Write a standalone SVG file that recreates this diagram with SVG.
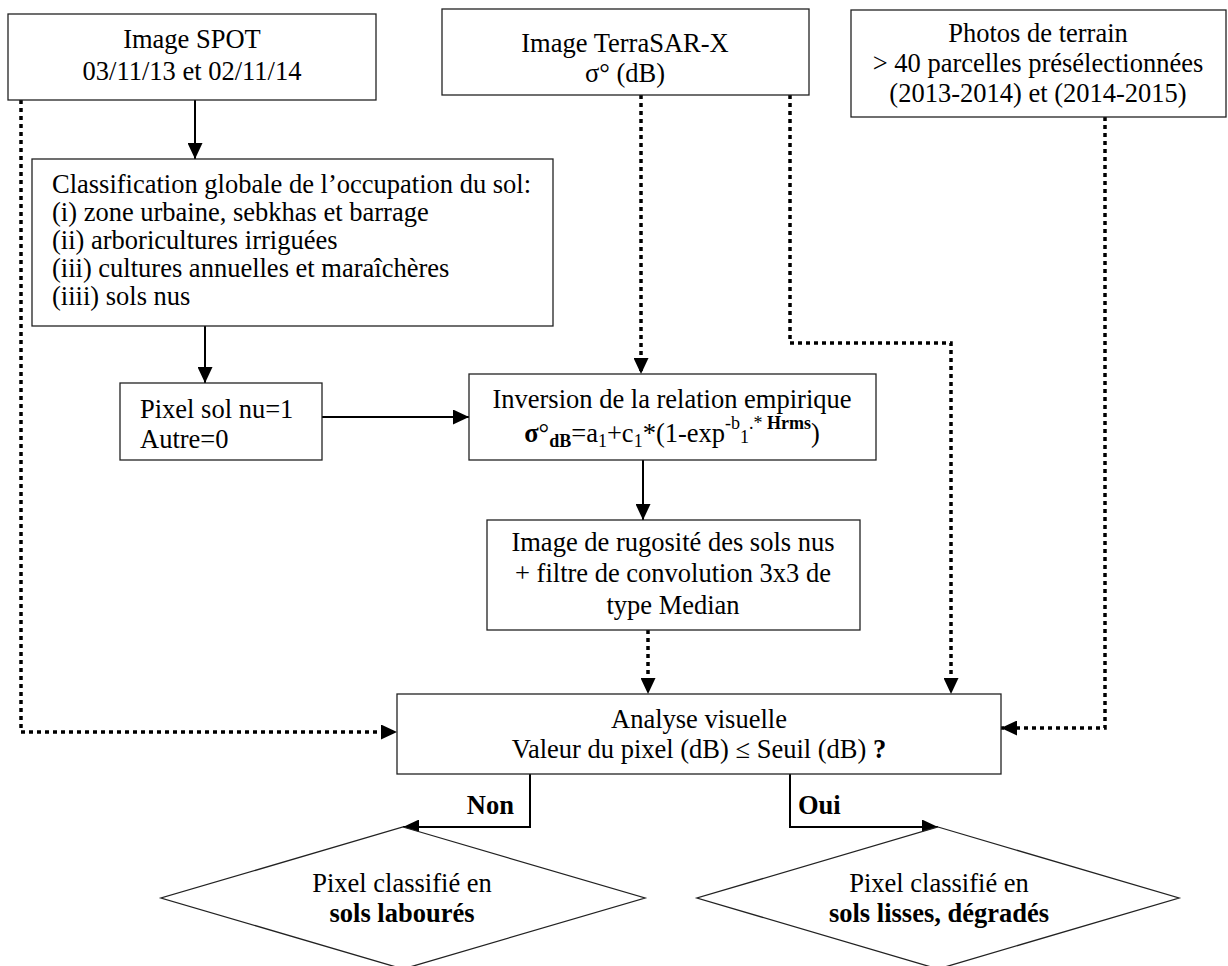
<svg xmlns="http://www.w3.org/2000/svg" width="1228" height="966" viewBox="0 0 1228 966">
  <defs>
    <marker id="arrow" markerUnits="userSpaceOnUse" markerWidth="16" markerHeight="15" refX="16" refY="7.5" orient="auto">
      <path d="M0,0 L16,7.5 L0,15 z" fill="#000"/>
    </marker>
    <style>
      .box { fill: #fff; stroke: #222; stroke-width: 1.3; }
      .t { font-family: "Liberation Serif", "Times New Roman", serif; font-size: 26.5px; fill: #000; }
      .c { text-anchor: middle; }
      .b { font-weight: bold; }
      .solid { fill: none; stroke: #000; stroke-width: 2; marker-end: url(#arrow); }
      .dot { fill: none; stroke: #000; stroke-width: 3.5; stroke-dasharray: 4 4; marker-end: url(#arrow); }
      .sub { font-size: 18px; }
    </style>
  </defs>
  <rect width="1228" height="966" fill="#fff"/>

  <!-- connectors -->
  <g id="connectors">
    <path class="solid" d="M195,100 V159"/>
    <path class="solid" d="M205,326 V383"/>
    <path class="solid" d="M322,417 H469"/>
    <path class="solid" d="M643,460 V520"/>
    <path class="dot" d="M641,95 V374"/>
    <path class="dot" d="M790,95 V343 H951 V694"/>
    <path class="dot" d="M1105,117 V728 H1001"/>
    <path class="dot" d="M21,100 V732 H397"/>
    <path class="dot" d="M648,630 V694"/>
    <path class="solid" d="M530,774 V827 H403"/>
    <path class="solid" d="M790,774 V827 H938"/>
  </g>

  <g id="spot">
    <rect class="box" x="8" y="14" width="368" height="86"/>
    <text class="t c" x="192" y="48">Image SPOT</text>
    <text class="t c" x="192" y="80">03/11/13 et 02/11/14</text>
  </g>

  <g id="terrasar">
    <rect class="box" x="442" y="9" width="367" height="86"/>
    <text class="t c" x="625" y="52">Image TerraSAR-X</text>
    <text class="t c" x="625" y="82">σ° (dB)</text>
  </g>

  <g id="photos">
    <rect class="box" x="851" y="10" width="375" height="107"/>
    <text class="t c" x="1038" y="42">Photos de terrain</text>
    <text class="t c" x="1038" y="72">&gt; 40 parcelles présélectionnées</text>
    <text class="t c" x="1038" y="102">(2013-2014) et (2014-2015)</text>
  </g>

  <g id="classification">
    <rect class="box" x="32" y="159" width="521" height="167"/>
    <text class="t" x="52" y="193">Classification globale de l’occupation du sol:</text>
    <text class="t" x="52" y="221">(i) zone urbaine, sebkhas et barrage</text>
    <text class="t" x="52" y="249">(ii) arboricultures irriguées</text>
    <text class="t" x="52" y="277">(iii) cultures annuelles et maraîchères</text>
    <text class="t" x="52" y="305">(iiii) sols nus</text>
  </g>

  <g id="pixel-mask">
    <rect class="box" x="120" y="383" width="202" height="77"/>
    <text class="t" x="140" y="418">Pixel sol nu=1</text>
    <text class="t" x="140" y="448">Autre=0</text>
  </g>

  <g id="inversion">
    <rect class="box" x="469" y="374" width="407" height="86"/>
    <text class="t c" x="672" y="408">Inversion de la relation empirique</text>
    <text class="t c" x="672" y="442"><tspan class="b">σ</tspan>°<tspan class="sub b" dy="5">dB</tspan><tspan dy="-5">=a</tspan><tspan class="sub" dy="5">1</tspan><tspan dy="-5">+c</tspan><tspan class="sub" dy="5">1</tspan><tspan dy="-5">*(1-exp</tspan><tspan class="sub" dy="-13">-b</tspan><tspan class="sub" dy="14">1</tspan><tspan class="sub" dy="-14">.* </tspan><tspan class="sub b">Hrms</tspan><tspan dy="13">)</tspan></text>
  </g>

  <g id="rugosite">
    <rect class="box" x="487" y="520" width="373" height="110"/>
    <text class="t c" x="673" y="551">Image de rugosité des sols nus</text>
    <text class="t c" x="673" y="582">+ filtre de convolution 3x3 de</text>
    <text class="t c" x="673" y="614">type Median</text>
  </g>

  <g id="analyse">
    <rect class="box" x="397" y="694" width="604" height="80"/>
    <text class="t c" x="699" y="728">Analyse visuelle</text>
    <text class="t c" x="699" y="758">Valeur du pixel (dB) ≤ Seuil (dB) <tspan class="b">?</tspan></text>
  </g>

  <g id="label-non">
    <text class="t b" x="514" y="814" text-anchor="end" font-size="28">Non</text>
  </g>
  <g id="label-oui">
    <text class="t b" x="798" y="814" font-size="28">Oui</text>
  </g>

  <g id="sols-laboures">
    <polygon class="box" points="403,827 645,898 403,969 161,898"/>
    <text class="t c" x="402" y="892">Pixel classifié en</text>
    <text class="t c b" x="402" y="922">sols labourés</text>
  </g>

  <g id="sols-lisses">
    <polygon class="box" points="938,827 1179,898 938,969 697,898"/>
    <text class="t c" x="939" y="892">Pixel classifié en</text>
    <text class="t c b" x="939" y="922">sols lisses, dégradés</text>
  </g>
</svg>
